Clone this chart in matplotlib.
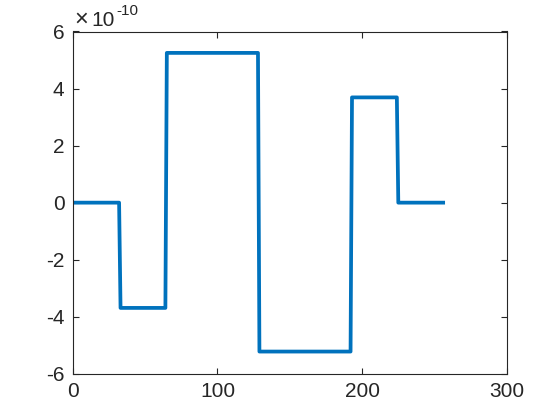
import numpy as np
import matplotlib.pyplot as plt
from matplotlib.ticker import FuncFormatter

# step levels (coefficient values) and where each one ends (sample index)
levels = [0.0, -3.69e-10, 5.25e-10, -5.22e-10, 3.69e-10, 0.0]
ends = [32, 64, 128, 192, 224, 256]

x_ticks = [0, 100, 200, 300]
y_ticks = [-6, -4, -2, 0, 2, 4, 6]  # in units of 1e-10
scale = 1e-10

# build the 256-sample signal from the levels
signal = []
start = 0
for lev, e in zip(levels, ends):
    signal += [lev] * (e - start)
    start = e
signal = np.array(signal)
n = np.arange(1, len(signal) + 1)

plt.rcParams['font.family'] = ['Liberation Sans', 'DejaVu Sans']
plt.rcParams['axes.unicode_minus'] = False

fig = plt.figure(figsize=(5.6, 4.2), dpi=100)
ax = fig.add_axes([0.13, 0.11, 0.775, 0.815])

ax.plot(n, signal, color='#0072BD', linewidth=2.7, solid_joinstyle='round')

ax.set_xlim(0, 300)
ax.set_ylim(y_ticks[0] * scale, y_ticks[-1] * scale)
ax.set_xticks(x_ticks)
ax.set_yticks(np.array(y_ticks) * scale)
ax.yaxis.set_major_formatter(FuncFormatter(lambda v, p: '%g' % round(v / scale, 6)))

# MATLAB-style exponent label above the y axis
txt = dict(transform=ax.transAxes, color='#262626', ha='left', va='baseline')
ax.text(0.004, 1.017, '×', fontsize=17, **txt)
ax.text(0.043, 1.017, '10', fontsize=15, **txt)
ax.text(0.101, 1.048, '-10', fontsize=11, **txt)

for s in ax.spines.values():
    s.set_color('#262626')
    s.set_linewidth(0.8)
ax.tick_params(direction='in', top=True, right=True, length=4,
               labelsize=15, colors='#262626', pad=6)

fig.savefig('out.png', dpi=100)
